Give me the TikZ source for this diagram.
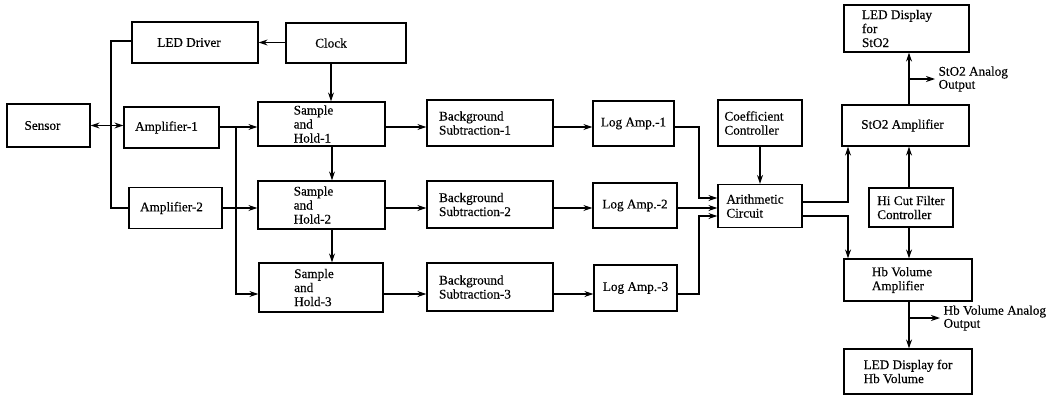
\documentclass[tikz,border=0pt]{standalone}
\usepackage{fontspec}
\setmainfont[FakeBold=0.4]{Liberation Serif}
\usetikzlibrary{arrows.meta}
\newcommand{\rp}[1]{\hspace*{#1pt}}
\begin{document}
\begin{tikzpicture}[x=1pt,y=-1pt,
  box/.style={draw, line width=1.2pt, align=left, inner sep=0pt, font=\fontsize{13.2}{14}\selectfont},
  conn/.style={line width=1.2pt},
  arr/.style={conn, -{Stealth[length=9pt,width=6pt]}},
  darr/.style={conn, {Stealth[length=9pt,width=6pt]}-{Stealth[length=9pt,width=6pt]}},
  lbl/.style={anchor=west, align=left, inner sep=0pt, font=\fontsize{13.2}{13}\selectfont}]
\useasboundingbox (0,0) rectangle (1056,397);
% nodes
\node[box, minimum width=83pt, minimum height=43pt] (sensor) at (48.5,125.5) {Sensor\rp{12}};
\node[box, minimum width=126pt, minimum height=41pt] (ledd) at (195,42.5) {LED Driver\rp{12}};
\node[box, minimum width=120pt, minimum height=40pt] (clock) at (346,43) {Clock\rp{30}};
\node[box, minimum width=95pt, minimum height=41pt] (amp1) at (171.5,127.5) {Amplifier-1\rp{10}};
\node[box, minimum width=93pt, minimum height=41pt] (amp2) at (175.5,208) {Amplifier-2\rp{8}};
\node[box, minimum width=127pt, minimum height=44pt] (sh1) at (321.5,124) {Sample\rp{16}\\and\\Hold-1};
\node[box, minimum width=127pt, minimum height=48pt] (sh2) at (321.5,205) {Sample\rp{16}\\and\\Hold-2};
\node[box, minimum width=124pt, minimum height=49pt] (sh3) at (321,287.5) {Sample\rp{14}\\and\\Hold-3};
\node[box, minimum width=126pt, minimum height=46pt] (bs1) at (490,123) {Background\\Subtraction-1\rp{30}};
\node[box, minimum width=126pt, minimum height=47pt] (bs2) at (490,204.5) {Background\\Subtraction-2\rp{30}};
\node[box, minimum width=126pt, minimum height=48pt] (bs3) at (490,287) {Background\\Subtraction-3\rp{30}};
\node[box, minimum width=81pt, minimum height=45pt] (log1) at (633.5,123.5) {Log Amp.-1};
\node[box, minimum width=84pt, minimum height=45pt] (log2) at (635,205.5) {Log Amp.-2};
\node[box, minimum width=83pt, minimum height=46pt] (log3) at (635.5,288) {Log Amp.-3};
\node[box, minimum width=84pt, minimum height=46pt] (coef) at (760,123) {Coefficient\rp{12}\\Controller};
\node[box, minimum width=84pt, minimum height=43pt] (arith) at (760,206) {Arithmetic\rp{10}\\Circuit};
\node[box, minimum width=125pt, minimum height=47pt] (ledsto2) at (906.5,28.5) {LED Display\rp{19}\\for\\StO2};
\node[box, minimum width=127pt, minimum height=41pt] (sto2amp) at (905.5,125.5) {StO2 Amplifier\rp{6}};
\node[box, minimum width=84pt, minimum height=39pt] (hicut) at (911,207.5) {Hi Cut Filter\\Controller};
\node[box, minimum width=128pt, minimum height=42pt] (hbamp) at (908,280) {Hb Volume\rp{12}\\Amplifier};
\node[box, minimum width=128pt, minimum height=45pt] (ledhb) at (908,371.5) {LED Display for\\Hb Volume};
% helper coordinates
\coordinate (r1) at (0,127);
\coordinate (r2) at (0,208);
\coordinate (r3) at (0,294);
\coordinate (bx) at (236,0);
\coordinate (lx) at (111,0);
\coordinate (cx) at (331,0);
\coordinate (sx) at (332,0);
\coordinate (jx) at (699,0);
\coordinate (ax) at (848,0);
\coordinate (hx) at (909,0);
\coordinate (o1) at (909,79);
\coordinate (o2) at (910,318);
\coordinate (ai1) at ([yshift=8pt]arith.west);
\coordinate (ai3) at ([yshift=-10pt]arith.west);
\coordinate (ao1) at ([yshift=4pt]arith.east);
\coordinate (ao2) at ([yshift=-10pt]arith.east);
\coordinate (ld) at ([yshift=1.5pt]ledd.west);
% connectors
\draw[arr] (clock.west |- ledd.east) -- (ledd.east);
\draw[arr] (clock.south -| cx) -- (sh1.north -| cx);
\draw[darr] (sensor.east) -- (sensor.east -| amp1.west);
\draw[conn] (ld) -| (lx |- amp2.west) -- (amp2.west);
\draw[arr] (amp1.east |- r1) -- (sh1.west |- r1);
\draw[arr] (bx |- r1) |- (sh3.west |- r3);
\draw[arr] (amp2.east |- r2) -- (sh2.west |- r2);
\draw[arr] (sh1.south -| sx) -- (sh2.north -| sx);
\draw[arr] (sh2.south -| sx) -- (sh3.north -| sx);
\draw[arr] (sh1.east |- r1) -- (bs1.west |- r1);
\draw[arr] (sh2.east |- r2) -- (bs2.west |- r2);
\draw[arr] (sh3.east |- r3) -- (bs3.west |- r3);
\draw[arr] (bs1.east |- r1) -- (log1.west |- r1);
\draw[arr] (bs2.east |- r2) -- (log2.west |- r2);
\draw[arr] (bs3.east |- r3) -- (log3.west |- r3);
\draw[arr] (log1.east |- r1) -| (jx |- ai1) -- (ai1);
\draw[arr] (log2.east |- r2) -- (arith.west |- r2);
\draw[arr] (log3.east |- r3) -| (jx |- ai3) -- (ai3);
\draw[arr] (coef.south) -- (arith.north);
\draw[arr] (ao1) -| (ax |- sto2amp.south);
\draw[arr] (ao2) -| (ax |- hbamp.north);
\draw[arr] (hx |- hicut.north) -- (hx |- sto2amp.south);
\draw[arr] (hx |- hicut.south) -- (hx |- hbamp.north);
\draw[arr] (hx |- sto2amp.north) -- (hx |- ledsto2.south);
\draw[arr] (o1) -- ++(26,0) node[lbl, right=3pt, anchor=west] {StO2 Analog\\Output};
\draw[arr] (hx |- hbamp.south) -- (hx |- ledhb.north);
\draw[arr] (o2) -- ++(30,0) node[lbl, right=3pt, anchor=west] {Hb Volume Analog\\Output};
\end{tikzpicture}
\end{document}
